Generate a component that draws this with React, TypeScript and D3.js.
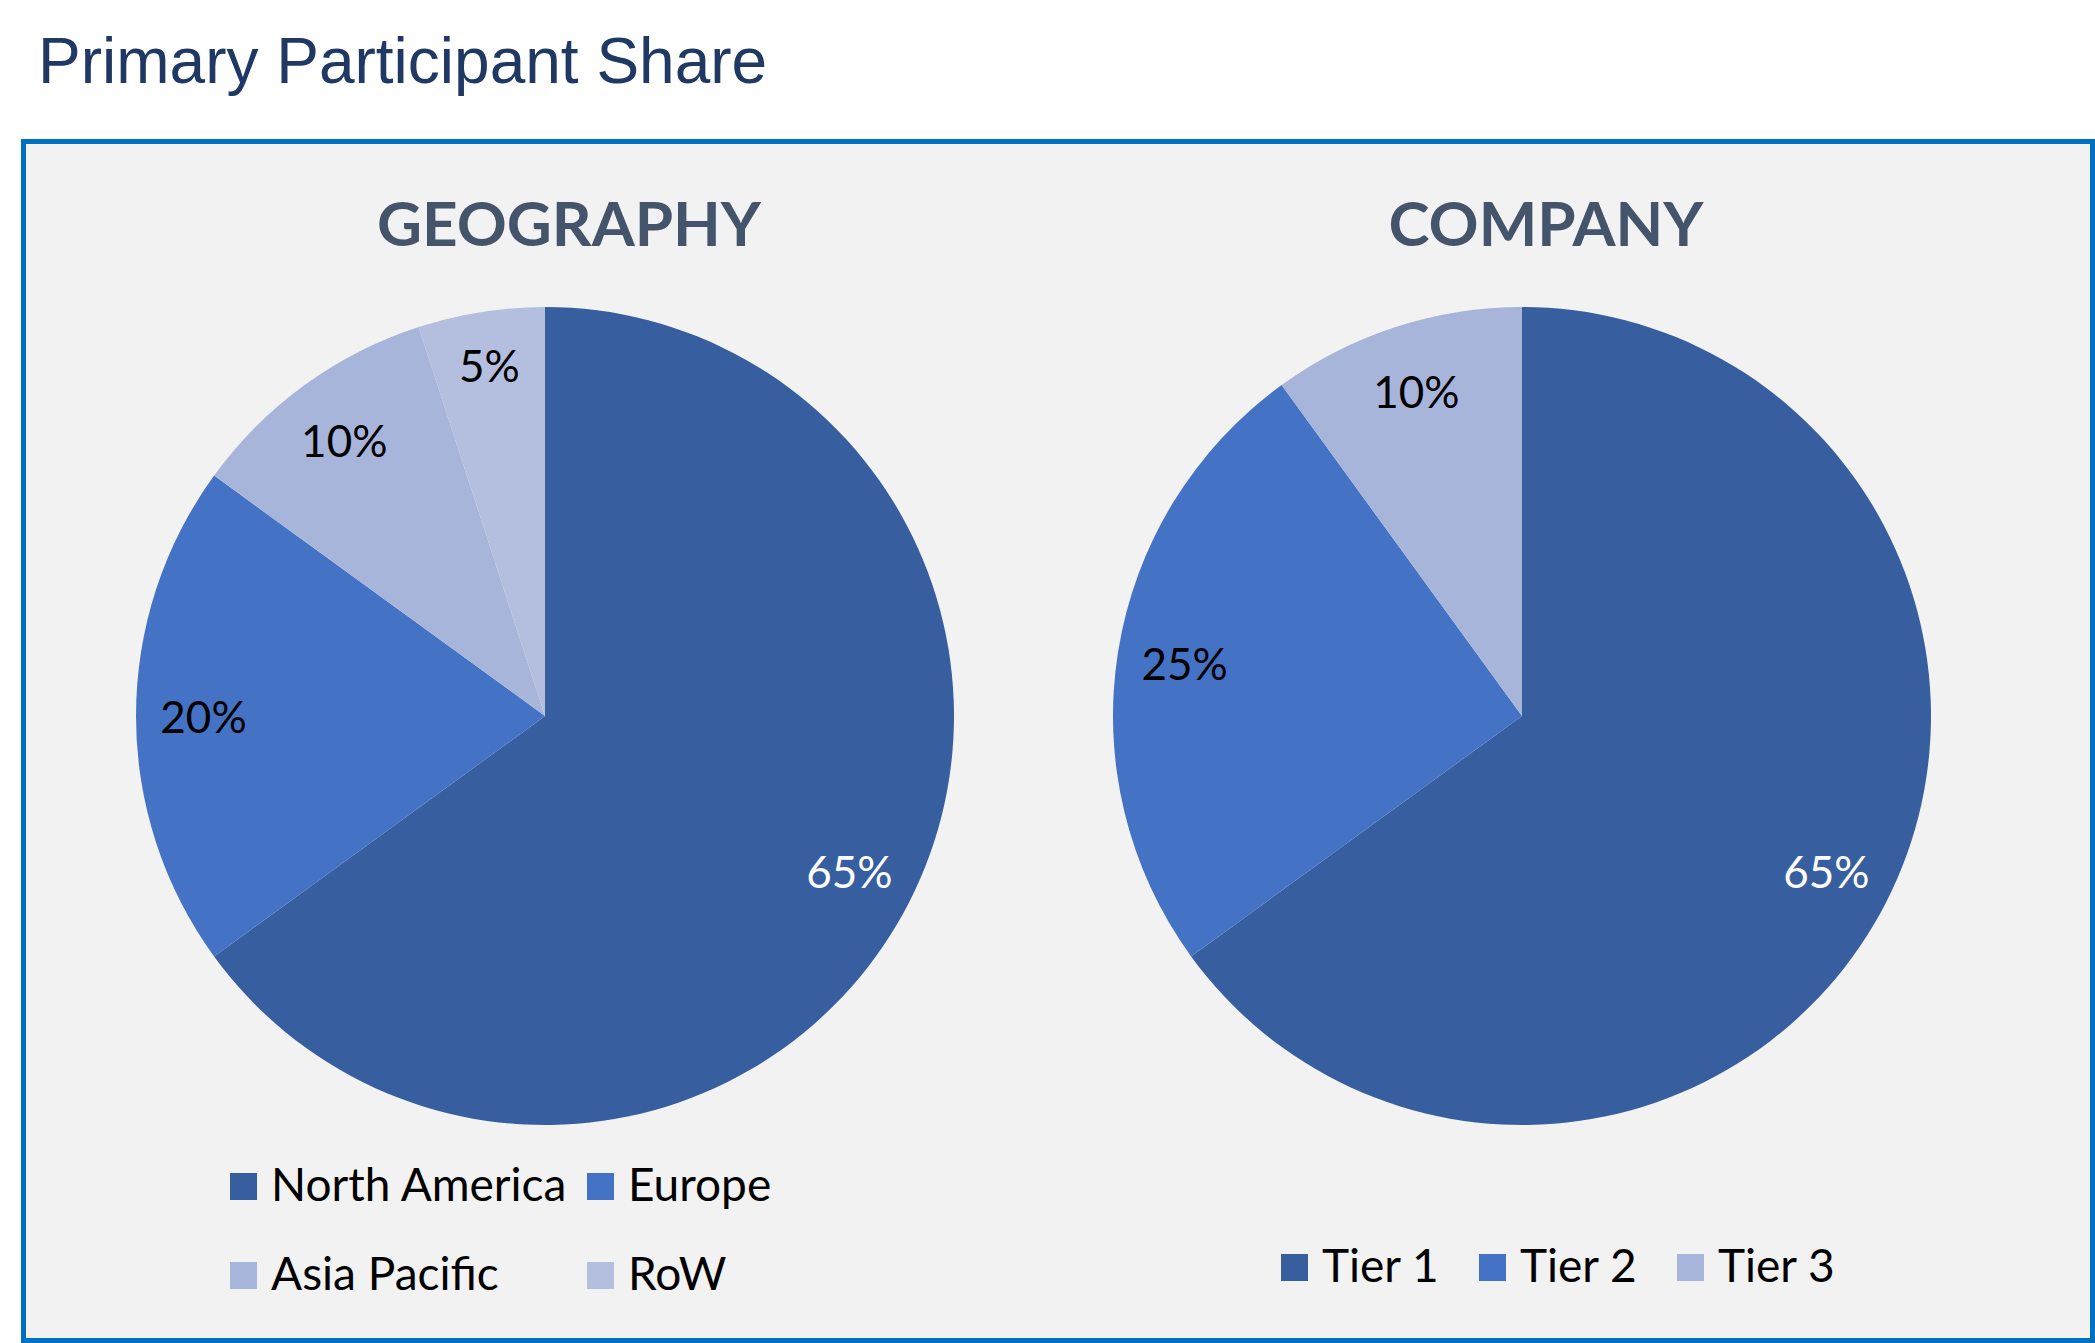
import React from "react";
import * as d3 from "d3";

const W = 2095;
const H = 1343;

const chartTitle = "Primary Participant Share";

const geoTitle = "GEOGRAPHY";
const geoCategories = ["North America", "Europe", "Asia Pacific", "RoW"];
const geoValues = [65, 20, 10, 5];
const geoColors = ["#375E9F", "#4472C4", "#A7B5DA", "#B4BFE0"];
const geoLabelColors = ["#FFFFFF", "#000000", "#000000", "#000000"];

const compTitle = "COMPANY";
const compCategories = ["Tier 1", "Tier 2", "Tier 3"];
const compValues = [65, 25, 10];
const compColors = ["#375E9F", "#4472C4", "#A7B5DA"];
const compLabelColors = ["#FFFFFF", "#000000", "#000000"];

type PieProps = {
  cx: number;
  cy: number;
  r: number;
  title: string;
  titleX: number;
  categories: string[];
  values: number[];
  colors: string[];
  labelColors: string[];
  legendPos: { x: number; y: number }[];
};

function Pie({ cx, cy, r, title, titleX, categories, values, colors, labelColors, legendPos }: PieProps) {
  const pie = d3
    .pie<number>()
    .sort(null)
    .value((d) => d)
    .startAngle(0)
    .endAngle(2 * Math.PI);
  const arcs = pie(values);
  const arc = d3.arc<d3.PieArcDatum<number>>().innerRadius(0).outerRadius(r);
  const total = d3.sum(values);
  const fmt = d3.format(".0%");
  // small slices are labelled slightly farther out (best-fit placement)
  const labelRatio = (v: number) => (v / total < 0.08 ? 0.87 : 0.835);
  return (
    <g>
      <text
        x={titleX}
        y={246}
        textAnchor="middle"
        fontFamily="Lato, 'Open Sans', sans-serif"
        fontWeight={700}
        fontSize={62}
        fill="#44546A"
      >
        {title}
      </text>
      <g transform={`translate(${cx},${cy})`}>
        {arcs.map((a, i) => (
          <path key={i} d={arc(a) || ""} fill={colors[i]} />
        ))}
        {arcs.map((a, i) => {
          const lr = r * labelRatio(values[i]);
          const [lx, ly] = d3
            .arc<d3.PieArcDatum<number>>()
            .innerRadius(lr)
            .outerRadius(lr)
            .centroid(a);
          return (
            <text
              key={"l" + i}
              x={lx}
              y={ly}
              textAnchor="middle"
              dominantBaseline="central"
              fontFamily="Lato, sans-serif"
              fontSize={44}
              fill={labelColors[i]}
            >
              {fmt(values[i] / total)}
            </text>
          );
        })}
      </g>
      {categories.map((c, i) => (
        <g key={"lg" + i} transform={`translate(${legendPos[i].x},${legendPos[i].y})`}>
          <rect x={0} y={0} width={27} height={27} fill={colors[i]} />
          <text x={41} y={28} fontFamily="Lato, sans-serif" fontSize={46} fill="#000000">
            {c}
          </text>
        </g>
      ))}
    </g>
  );
}

export default function App() {
  return (
    <div style={{ position: "absolute", left: 0, top: 0, width: W, height: H, background: "#FFFFFF" }}>
      <svg width={W} height={H} viewBox={`0 0 ${W} ${H}`} style={{ display: "block" }}>
        <rect x={0} y={0} width={W} height={H} fill="#FFFFFF" />
        <text
          x={38}
          y={83}
          fontFamily="'Liberation Sans', Arial, sans-serif"
          fontSize={64}
          fill="#1F3864"
        >
          {chartTitle}
        </text>
        <rect x={23.5} y={141.5} width={2069} height={1199} fill="#F2F2F2" stroke="#0070C0" strokeWidth={5} />
        <Pie
          cx={545}
          cy={716}
          r={409}
          title={geoTitle}
          titleX={569}
          categories={geoCategories}
          values={geoValues}
          colors={geoColors}
          labelColors={geoLabelColors}
          legendPos={[
            { x: 230, y: 1173 },
            { x: 587, y: 1173 },
            { x: 230, y: 1262 },
            { x: 587, y: 1262 },
          ]}
        />
        <Pie
          cx={1522}
          cy={716}
          r={409}
          title={compTitle}
          titleX={1546}
          categories={compCategories}
          values={compValues}
          colors={compColors}
          labelColors={compLabelColors}
          legendPos={[
            { x: 1281, y: 1254 },
            { x: 1479, y: 1254 },
            { x: 1677, y: 1254 },
          ]}
        />
      </svg>
    </div>
  );
}
